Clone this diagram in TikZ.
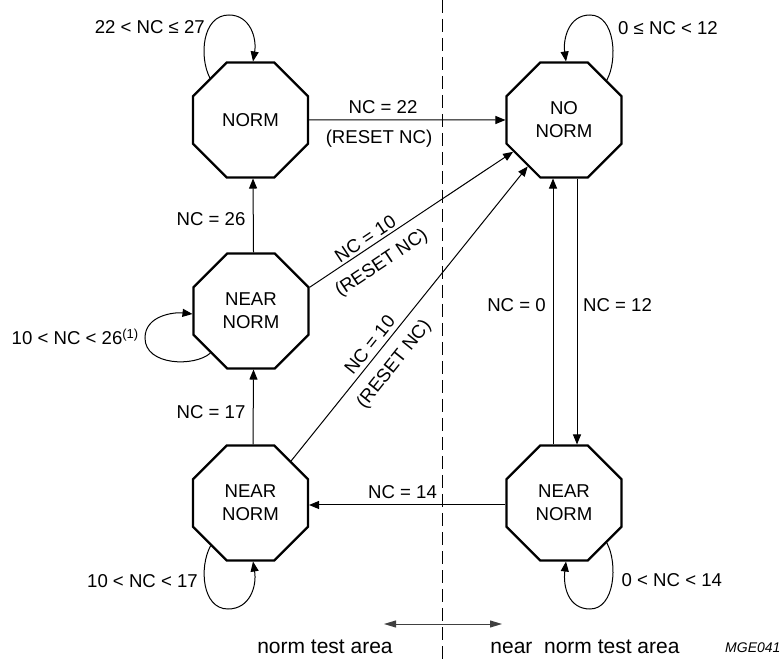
\documentclass[tikz,border=0pt]{standalone}
\usepackage{fontspec}
\setmainfont{Liberation Sans}
\usetikzlibrary{shapes.geometric,arrows.meta}
\newcommand\lblfont{\fontsize{18.6}{23}\selectfont}
\newcommand\bigfont{\fontsize{21}{25}\selectfont}
\begin{document}
\begin{tikzpicture}[x=1pt,y=-1pt,
  oct/.style={draw, line width=2.2pt, regular polygon, regular polygon sides=8,
    minimum size=124.3pt, inner sep=0pt, align=center, font=\lblfont},
  ln/.style={line width=1pt},
  arr/.style={ln, -{Triangle[length=10pt,width=8pt]}},
  lab/.style={inner sep=0pt, font=\lblfont},
  biglab/.style={inner sep=0pt, font=\bigfont},
]
\useasboundingbox (0,0) rectangle (780,660);

% states
\node[oct] (norm)   at (250.5,120) {NORM};
\node[oct] (nonorm) at (564,120)   {NO\\NORM};
\node[oct] (mid)    at (251,311)   {NEAR\\NORM};
\node[oct] (bl)     at (250.5,503) {NEAR\\NORM};
\node[oct] (br)     at (564,503)   {NEAR\\NORM};

% divider
\coordinate (dtop) at (442.5,0);
\coordinate (dbot) at (442.5,660);
\draw[ln, dash pattern=on 13pt off 6pt] (dtop) -- (dbot);

% transitions
\draw[arr] (norm.east) -- (nonorm.west);
\draw[arr] ([xshift=2.5pt]mid.north) -- ([xshift=2.5pt]norm.south);
\draw[arr] ([xshift=2.5pt]bl.north) -- ([xshift=2.5pt]mid.south);
\draw[arr] ([xshift=-11pt]br.north) -- ([xshift=-11pt]nonorm.south);
\draw[arr] ([xshift=13pt]nonorm.south) -- ([xshift=13pt]br.north);
\draw[arr] ([yshift=-2pt]br.west) -- ([yshift=-2pt]bl.east);
\draw[arr] (mid.22) -- node[pos=0.30, sloped, above=2.5pt, lab] (d1a) {NC = 10}
                       node[pos=0.30, sloped, below=11pt, lab] (d1b) {(RESET NC)} (nonorm.212);
\draw[arr] (bl.46) -- node[pos=0.37, sloped, above=4.5pt, lab] (d2a) {NC = 10}
                      node[pos=0.37, sloped, below=11pt, lab] (d2b) {(RESET NC)} (nonorm.232);

% self loops
\draw[arr] (norm.134) .. controls (199,57) and (202,15) .. (229,15)
           .. controls (250,15) and (257,38) .. ([xshift=2.5pt]norm.north);
\draw[arr] (nonorm.43) .. controls (618,60) and (615,15) .. (590,15)
           .. controls (568,15) and (563,40) .. ([xshift=2pt]nonorm.north);
\draw[arr] (mid.226) .. controls (195,367) and (145,366) .. (145,338)
           .. controls (145,315) and (175,312) .. ([yshift=-3pt]mid.west);
\draw[arr] (bl.227) .. controls (199,567) and (202,609) .. (228,609)
           .. controls (250,609) and (257,586) .. ([xshift=2.5pt]bl.south);
\draw[arr] (br.317) .. controls (618,563) and (615,609) .. (590,609)
           .. controls (568,609) and (563,586) .. ([xshift=2pt]br.south);

% labels
\node[lab, anchor=base east] (lnorm)   at (205,33.6)  {22 < NC ≤ 27};
\node[lab, anchor=base west] (lnonorm) at (618,34.6)  {0 ≤ NC < 12};
\node[lab, anchor=base] (l22)  at (383,113.6) {NC = 22};
\node[lab, anchor=base] (lr22) at (379,143.6) {(RESET NC)};
\node[lab, anchor=base] (l26)  at (211,225.6) {NC = 26};
\node[lab, anchor=base] (l17)  at (211,418.6) {NC = 17};
\node[lab, anchor=base east] (lmid) at (139,344.6) {10 < NC < 26\textsuperscript{(1)}};
\node[lab, anchor=base east] (lbl)  at (198,587.6) {10 < NC < 17};
\node[lab, anchor=base west] (lbr)  at (621.5,586.6) {0 < NC < 14};
\node[lab, anchor=base] (l0)  at (516.5,311.6) {NC = 0};
\node[lab, anchor=base] (l12) at (617.5,311.6) {NC = 12};
\node[lab, anchor=base] (l14) at (402.5,499) {NC = 14};

% bottom
\coordinate (al) at (384,624);
\coordinate (ar) at (502,624);
\draw[line width=1pt, black!75, {Triangle[length=12pt,width=7pt]}-{Triangle[length=12pt,width=7pt]}] (al) -- (ar);
\node[biglab, anchor=base] (lnta) at (325,653) {norm test area};
\node[biglab, anchor=base] (lnnta) at (585,653) {near\ \ norm test area};
\node[inner sep=0pt, anchor=base west, font={\itshape\fontsize{14}{16}\selectfont}] (mge) at (725,652) {MGE041};
\end{tikzpicture}
\end{document}
